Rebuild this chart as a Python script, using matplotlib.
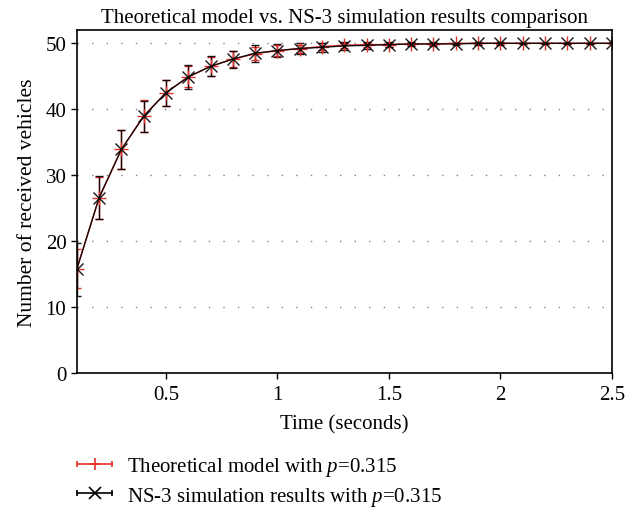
import numpy as np
import matplotlib
matplotlib.use('Agg')
import matplotlib.pyplot as plt
from matplotlib.lines import Line2D
from matplotlib.legend_handler import HandlerBase

plt.rcParams['font.family'] = 'Liberation Serif'
plt.rcParams['mathtext.fontset'] = 'custom'
plt.rcParams['mathtext.rm'] = 'Liberation Serif'
plt.rcParams['mathtext.it'] = 'Liberation Serif:italic'

# time (s)
t = [0.1, 0.2, 0.3, 0.4, 0.5, 0.6, 0.7, 0.8, 0.9, 1.0, 1.1, 1.2, 1.3,
     1.4, 1.5, 1.6, 1.7, 1.8, 1.9, 2.0, 2.1, 2.2, 2.3, 2.4, 2.5]

# theoretical model, p = 0.315
theory = [15.8, 26.5, 33.9, 39.0, 42.5, 44.9, 46.5, 47.6, 48.4, 48.9, 49.2,
          49.5, 49.7, 49.8, 49.8, 49.9, 49.9, 50.0, 50.0, 50.0, 50.0, 50.0,
          50.0, 50.0, 50.0]
theory_err = [3.0, 3.2, 3.0, 2.4, 2.0, 1.6, 1.4, 1.2, 1.0, 0.8, 0.6, 0.5,
              0.4, 0.3, 0.3, 0.2, 0.2, 0.1, 0.1, 0.1, 0.1, 0.1, 0.1, 0.1, 0.0]

# NS-3 simulation results
sim = [15.7, 26.6, 33.9, 38.9, 42.5, 44.9, 46.5, 47.6, 48.5, 48.9, 49.2,
       49.4, 49.6, 49.7, 49.8, 49.9, 49.9, 49.9, 50.0, 50.0, 50.0, 50.0,
       50.0, 50.0, 50.0]
sim_err = [4.0, 3.3, 2.9, 2.4, 2.0, 1.8, 1.5, 1.3, 1.3, 1.0, 0.8, 0.7,
           0.6, 0.5, 0.4, 0.3, 0.3, 0.2, 0.2, 0.2, 0.1, 0.1, 0.1, 0.1, 0.0]

labels = [r'Theoretical model with $p$=0.315',
          r'NS-3 simulation results with $p$=0.315']


class CapLineHandler(HandlerBase):
    # |----marker----| style legend key
    def create_artists(self, legend, orig_handle, xdescent, ydescent,
                       width, height, fontsize, trans):
        y = height / 2 - ydescent
        x0, x1 = -xdescent, -xdescent + width
        c = orig_handle.get_color()
        line = Line2D([x0, x1], [y, y], color=c, lw=1.2)
        caps = Line2D([x0, x1], [y, y], ls='none', marker='|', color=c,
                      markersize=5, mew=1.2)
        mk = Line2D([(x0 + x1) / 2], [y], ls='none',
                    marker=orig_handle.get_marker(), color=c,
                    markersize=8, mew=1.2)
        for a in (line, caps, mk):
            a.set_transform(trans)
        return [line, caps, mk]


fig = plt.figure(figsize=(6.4, 5.1), dpi=100)
ax = fig.add_axes([0.12, 0.267, 0.836, 0.672])

ax.errorbar(t, theory, yerr=theory_err, color='#e8302a', marker='+',
            markersize=10, mew=1.0, lw=1.0, capsize=3, elinewidth=1.0)
ax.errorbar(t, sim, yerr=sim_err, color='black', marker='x',
            markersize=9, mew=1.0, lw=1.0, capsize=3, elinewidth=1.0,
            alpha=0.9)

ax.set_xlim(0.1, 2.5)
ax.set_ylim(0, 52)
ax.set_xticks([0.5, 1, 1.5, 2, 2.5])
ax.set_xticklabels(['0.5', '1', '1.5', '2', '2.5'])
ax.set_yticks([0, 10, 20, 30, 40, 50])
ax.tick_params(labelsize=15, direction='out', length=4, width=1)
ax.tick_params(axis='x', pad=5)
for s in ax.spines.values():
    s.set_linewidth(1.2)

for yv in [10, 20, 30, 40, 50]:
    ax.axhline(yv, color='gray', ls=(0, (1, 9.5)), lw=1.0, zorder=0)

ax.set_xlabel('Time (seconds)', fontsize=15, labelpad=7)
ax.set_ylabel('Number of received vehicles', fontsize=15.5, labelpad=6)
ax.set_title('Theoretical model vs. NS-3 simulation results comparison',
             fontsize=15, pad=6)

proxies = [Line2D([], [], color='#e8302a', marker='+'),
           Line2D([], [], color='black', marker='x')]
fig.legend(proxies, labels, loc='center left', bbox_to_anchor=(0.12, 0.054),
           frameon=False, fontsize=15, handlelength=1.7, labelspacing=0.3,
           handletextpad=0.7, borderpad=0, borderaxespad=0,
           handler_map={Line2D: CapLineHandler()})

fig.savefig('out.png', dpi=100)
